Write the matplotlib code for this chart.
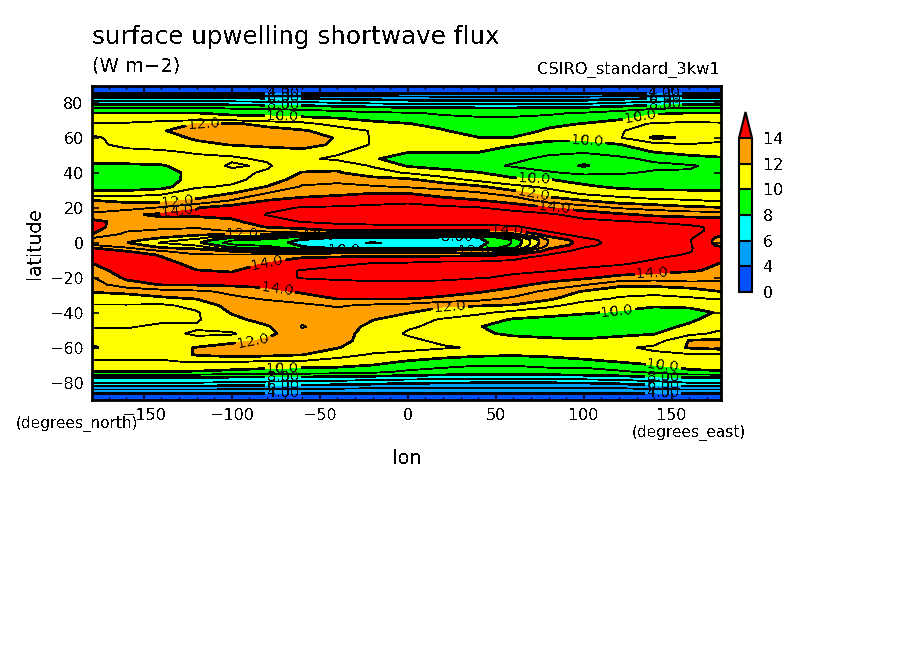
import numpy as np
import matplotlib
matplotlib.use("Agg")
import matplotlib.pyplot as plt
from matplotlib.colors import ListedColormap, BoundaryNorm

plt.rcParams['text.antialiased'] = False
plt.rcParams['font.family'] = 'DejaVu Sans'

lons = [-180, -160, -140, -120, -100, -80, -60, -40, -20, 0, 20, 40, 60, 80, 100, 120, 140, 160, 180]
lats = [90, 87, 85, 83, 81, 79, 77, 74, 71, 68, 64, 60, 56, 52, 48, 44, 40, 36, 32, 28, 24, 20, 16, 12,
        9, 7, 5, 3, 1.5, 0, -1.5, -3, -5, -7, -9, -12, -16, -20, -24, -28, -32, -36, -40, -44, -48, -52,
        -56, -60, -64, -68, -71, -74, -77, -80, -83, -86, -88, -90]

# W m-2, one row per latitude
flux = [
    [2.5]*19,
    [3.2]*19,
    [4.2, 4.2, 4.2, 4.2, 4.2, 4.2, 4.2, 4.1, 4.1, 4.1, 4.1, 4.1, 4.1, 4.1, 4.1, 4.2, 4.2, 4.2, 4.2],
    [6.05, 6.05, 6.05, 6.05, 5.9, 5.8, 5.7, 5.6, 5.5, 5.4, 5.3, 5.2, 5.2, 5.2, 5.3, 5.5, 5.7, 5.9, 6.05],
    [7.05, 7.05, 7.05, 7.05, 6.9, 6.8, 6.7, 6.5, 6.3, 6.2, 6.1, 6.05, 6.1, 6.1, 6.2, 6.5, 6.8, 7.05, 7.05],
    [8.05, 8.05, 8.05, 8.05, 7.9, 7.8, 7.7, 7.5, 7.3, 7.2, 7.1, 7.05, 7.05, 7.1, 7.2, 7.5, 7.8, 8.05, 8.05],
    [9.05, 9.05, 9.05, 9.05, 8.9, 8.8, 8.7, 8.5, 8.3, 8.2, 8.1, 8.05, 8.05, 8.1, 8.2, 8.5, 8.8, 9.05, 9.05],
    [10.05, 10.05, 10.05, 10.05, 9.8, 9.7, 9.6, 9.4, 9.2, 9.1, 8.9, 8.8, 8.8, 8.9, 9.1, 9.4, 9.9, 10.05, 10.05],
    [10.6, 10.6, 10.6, 10.5, 10.4, 10.3, 10.2, 10.05, 9.7, 9.4, 9.2, 9.1, 9.1, 9.2, 9.4, 9.8, 10.4, 10.6, 10.6],
    [11.1, 11.1, 11.4, 12.05, 12.2, 11.6, 11.3, 10.6, 10.3, 10.05, 9.6, 9.15, 9.2, 9.7, 10.05, 10.6, 11.1, 11.2, 11.1],
    [11.2, 11.3, 11.9, 12.6, 12.8, 12.5, 12.1, 11.6, 10.9, 10.4, 10.1, 9.4, 9.4, 10.2, 10.6, 10.9, 11.5, 11.6, 11.3],
    [10.9, 11.2, 11.5, 12.2, 12.7, 12.8, 12.6, 11.9, 10.9, 10.5, 10.2, 10.05, 10.05, 10.2, 10.2, 10.9, 12.15, 11.9, 11.4],
    [10.9, 11.1, 11.3, 11.7, 12.05, 12.3, 12.4, 11.8, 10.9, 10.4, 10.2, 10.1, 10.05, 9.8, 9.7, 9.95, 10.6, 10.9, 10.7],
    [10.8, 10.9, 10.9, 11.1, 11.2, 11.4, 11.7, 11.2, 10.5, 10.05, 10.05, 10.05, 9.5, 9.2, 9.1, 9.4, 10.05, 10.3, 10.4],
    [10.4, 10.5, 10.7, 10.8, 10.9, 11.1, 11.2, 10.8, 10.1, 9.6, 9.6, 9.5, 9.2, 8.8, 8.5, 8.8, 9.2, 9.7, 9.9],
    [9.8, 9.8, 9.9, 10.6, 11.1, 10.9, 11.6, 11.7, 10.9, 9.9, 9.7, 9.3, 8.9, 8.6, 7.9, 8.6, 8.8, 8.9, 9.3],
    [9.4, 9.3, 9.5, 10.4, 10.8, 11.1, 12.05, 12.1, 11.4, 10.9, 10.3, 10.05, 9.5, 9.1, 8.8, 8.9, 9.1, 9.1, 9.2],
    [9.1, 9.1, 9.4, 10.5, 10.8, 11.3, 12.6, 12.8, 12.4, 12.2, 11.5, 10.7, 10.2, 10.05, 9.6, 9.4, 9.4, 9.4, 9.5],
    [9.3, 9.4, 9.6, 10.9, 11.1, 12.05, 13.1, 13.2, 13.1, 12.9, 12.6, 12.2, 11.3, 10.8, 10.2, 9.8, 9.7, 9.7, 9.7],
    [10.5, 10.5, 10.9, 11.5, 12.05, 13.1, 13.6, 13.8, 14.05, 14.05, 13.6, 13.2, 12.6, 11.5, 10.9, 10.6, 10.4, 10.3, 10.3],
    [12.05, 11.8, 11.7, 12.2, 13.1, 14.05, 14.4, 14.6, 14.7, 14.8, 14.4, 14.1, 13.6, 12.6, 12.05, 11.5, 11.2, 11.1, 10.9],
    [12.5, 12.6, 13.1, 13.95, 14.5, 14.8, 15.05, 15.1, 15.2, 15.3, 15.2, 15.05, 14.6, 14.05, 13.5, 12.9, 12.6, 12.2, 12.05],
    [13.2, 13.8, 14.2, 14.2, 14.3, 15.05, 15.3, 15.6, 15.8, 15.8, 15.7, 15.6, 15.5, 15.2, 14.6, 14.2, 13.8, 13.7, 13.6],
    [14.4, 13.5, 13.6, 13.5, 13.8, 14.5, 15.05, 15.4, 15.5, 15.6, 15.6, 15.7, 15.8, 15.7, 15.3, 15.1, 14.9, 14.6, 14.5],
    [14.5, 13.3, 13.2, 13.1, 13.5, 14.05, 14.2, 14.4, 14.6, 14.6, 14.6, 14.5, 14.8, 15.6, 15.7, 15.6, 15.5, 15.2, 14.7],
    [14.3, 13.1, 12.9, 12.8, 13.1, 13.4, 13.8, 14.05, 14.1, 14.1, 14.1, 14.05, 14.2, 15.2, 15.8, 16.1, 15.8, 15.3, 14.6],
    [14.05, 12.8, 12.6, 12.3, 12.05, 12.05, 12.5, 12.6, 12.6, 12.6, 12.6, 12.6, 12.8, 14.6, 15.6, 16.1, 16.1, 15.3, 14.2],
    [13.1, 12.5, 12.05, 11.5, 10.05, 10.05, 8.5, 7.95, 7.9, 7.9, 7.95, 7.95, 10.05, 13.8, 15.05, 15.8, 16.1, 15.2, 13.6],
    [12.7, 12.3, 11.6, 10.6, 9.1, 8.7, 7.9, 7.7, 7.6, 7.6, 7.7, 7.8, 9.1, 13.1, 14.6, 15.6, 16.1, 15.1, 13.4],
    [12.6, 12.05, 10.9, 10.2, 8.6, 8.6, 7.6, 7.4, 6.9, 7.3, 7.4, 7.6, 9.1, 13.1, 14.4, 15.6, 16.1, 15.1, 13.4],
    [13.1, 12.4, 11.6, 10.9, 9.2, 8.8, 7.9, 7.7, 7.6, 7.6, 7.7, 7.8, 9.2, 13.2, 14.6, 15.6, 16.1, 15.1, 13.6],
    [14.05, 13.1, 12.05, 11.8, 10.05, 9.8, 8.1, 7.95, 7.9, 7.9, 7.95, 7.95, 9.8, 13.8, 15.05, 15.8, 15.9, 15.1, 14.1],
    [14.6, 14.05, 13.1, 12.5, 12.05, 11.5, 11.9, 12.05, 12.1, 12.1, 12.1, 12.05, 12.3, 14.5, 15.4, 15.6, 15.6, 15.05, 14.3],
    [14.8, 14.5, 13.9, 13.1, 13.1, 13.3, 13.5, 13.6, 13.6, 13.6, 13.6, 13.8, 14.05, 15.05, 15.5, 15.5, 15.3, 14.9, 14.4],
    [14.6, 14.6, 14.1, 13.3, 13.4, 13.6, 14.1, 14.3, 14.5, 14.6, 14.7, 14.7, 14.9, 15.3, 15.5, 15.4, 15.05, 14.6, 14.3],
    [13.95, 14.8, 14.6, 13.5, 13.6, 14.05, 14.5, 14.8, 15.05, 15.1, 15.2, 15.2, 15.2, 15.4, 15.3, 15.1, 14.8, 14.5, 13.9],
    [13.4, 14.6, 14.6, 14.05, 13.9, 14.7, 15.05, 15.3, 15.3, 15.3, 15.3, 15.2, 15.1, 15.05, 14.8, 14.6, 14.3, 14.1, 13.8],
    [12.9, 14.2, 14.4, 14.5, 14.4, 14.7, 15.05, 15.1, 15.2, 15.2, 15.2, 15.05, 14.9, 14.5, 14.2, 13.7, 13.5, 13.5, 13.3],
    [12.5, 13.6, 14.05, 14.1, 14.2, 14.4, 14.6, 14.8, 14.8, 14.8, 14.7, 14.5, 14.3, 13.7, 13.1, 12.3, 12.3, 12.6, 12.7],
    [12.05, 12.2, 12.6, 12.8, 13.2, 13.5, 14.2, 14.4, 14.5, 14.5, 14.4, 14.1, 13.6, 12.7, 11.9, 11.3, 11.2, 11.4, 12.05],
    [11.5, 11.6, 11.8, 12.05, 12.8, 13.1, 13.4, 14.05, 14.05, 14.05, 13.8, 13.4, 12.8, 12.2, 11.3, 10.9, 10.8, 10.9, 11.1],
    [10.9, 10.9, 10.8, 11.3, 12.4, 12.6, 12.8, 13.1, 12.8, 12.6, 12.1, 12.05, 11.9, 11.2, 10.6, 10.3, 10.1, 10.2, 10.5],
    [10.5, 10.5, 10.4, 10.9, 12.1, 12.4, 12.6, 12.7, 12.3, 12.05, 11.6, 11.2, 10.7, 10.4, 10.1, 9.9, 9.6, 9.6, 10.2],
    [10.7, 10.7, 10.8, 10.9, 11.7, 12.4, 12.8, 12.6, 12.05, 11.4, 10.9, 10.5, 9.9, 9.7, 9.6, 9.5, 9.4, 9.8, 10.6],
    [10.9, 10.9, 11.2, 11.1, 11.4, 11.9, 13.05, 12.6, 11.7, 11.1, 10.8, 10.05, 9.6, 9.5, 9.5, 9.5, 9.6, 10.2, 10.8],
    [11.4, 11.3, 11.2, 10.9, 10.9, 11.7, 12.8, 12.4, 11.6, 10.9, 10.7, 10.2, 9.8, 9.7, 9.7, 9.8, 9.95, 10.7, 11.3],
    [11.8, 11.4, 11.2, 11.2, 11.6, 12.2, 12.7, 12.3, 11.6, 11.2, 10.8, 10.6, 10.4, 10.2, 10.1, 10.3, 10.5, 12.05, 12.2],
    [12.1, 11.6, 11.6, 12.05, 12.6, 12.7, 12.6, 12.05, 11.5, 11.2, 11.1, 10.9, 10.8, 10.7, 10.7, 10.8, 11.2, 12.1, 12.4],
    [11.3, 11.3, 11.3, 12.1, 12.4, 12.3, 12.05, 11.4, 10.9, 10.8, 10.4, 10.2, 10.1, 10.2, 10.4, 10.5, 10.8, 10.9, 10.9],
    [10.9, 10.9, 10.9, 11.1, 11.1, 10.9, 10.9, 10.6, 10.4, 9.9, 9.6, 9.4, 9.4, 9.6, 9.8, 10.05, 10.4, 10.6, 10.7],
    [10.7, 10.7, 10.6, 10.5, 10.4, 10.2, 10.1, 10.05, 9.8, 9.4, 9.1, 8.9, 8.9, 9.1, 9.1, 9.5, 9.8, 10.2, 10.3],
    [9.9, 9.9, 9.9, 9.9, 9.7, 9.6, 9.5, 9.4, 9.2, 8.8, 8.6, 8.4, 8.4, 8.5, 8.6, 8.8, 9.2, 9.8, 9.9],
    [8.1, 8.1, 8.1, 8.1, 7.95, 7.9, 7.9, 7.8, 7.7, 7.6, 7.5, 7.5, 7.5, 7.5, 7.6, 7.7, 7.9, 8.1, 8.1],
    [7.05, 7.05, 7.05, 7.05, 6.9, 6.8, 6.7, 6.6, 6.4, 6.2, 6.1, 6.05, 6.05, 6.05, 6.1, 6.3, 6.7, 7.05, 7.05],
    [5.5, 5.5, 5.5, 5.5, 5.4, 5.4, 5.3, 5.2, 5.1, 5.05, 5.05, 5.05, 5.05, 5.05, 5.05, 5.1, 5.3, 5.5, 5.5],
    [4.05]*19,
    [3.2]*19,
    [2.5]*19,
]

fill_levels = [0, 4, 6, 8, 10, 12, 14]
fill_colors = ['#0050ff', '#00a0ff', '#00ffff', '#00ff00', '#ffff00', '#ffa000', '#ff0000']
thick_levels = [4, 6, 8, 10, 12, 14]
thin_levels = [5, 7, 9, 11, 13, 15]
cbar_labels = ['0', '4', '6', '8', '10', '12', '14']

# contour labels: lon, lat, level
labels = [(-116, 67, 12), (-71, 72.5, 10), (-71, 80, 8), (-71, 83, 6), (-71, 86, 4),
          (132, 72.5, 10), (146, 80, 8), (146, 83, 6), (146, 86, 4),
          (102, 58, 10), (72, 38, 10), (72, 31, 12), (84, 22, 14),
          (-131, 26, 12), (-131, 19.5, 14), (-94, 5.7, 12), (-80, -10, 14), (-74, -26.5, 14),
          (-88, -52, 12), (57, 8.6, 14), (28, 1, 8), (38, -7, 12), (139, -18, 14),
          (24, -37, 12), (119, -39, 10), (-36, -5, 10), (-50, 5, 10),
          (-71, -72.5, 10), (-71, -78, 8), (-71, -82, 6), (-71, -86, 4),
          (145, -72.5, 10), (145, -78, 8), (145, -82, 6), (145, -86, 4)]

data = np.array(flux)
cmap = ListedColormap(fill_colors[:-1])
cmap.set_over(fill_colors[-1])
norm = BoundaryNorm(fill_levels, cmap.N)

fig = plt.figure(figsize=(9.04, 6.54), dpi=100)
ax = fig.add_axes([92/904, 1-400/654, (721-92)/904, (400-86)/654])

cf = ax.contourf(lons, lats, data, levels=fill_levels, cmap=cmap, norm=norm, extend='max', antialiased=False)
ax.contour(lons, lats, data, levels=thin_levels, colors='k', linewidths=0.6, linestyles='solid', antialiased=False)

# one contour set per level, clabel gets confused otherwise
for lev in thick_levels:
    cs = ax.contour(lons, lats, data, levels=[lev], colors='k', linewidths=1.2, linestyles='solid', antialiased=False)
    pts = [(x, y) for x, y, l in labels if l == lev]
    fmt = '%.1f' if lev >= 10 else '%.2f'
    cs.clabel(levels=[lev], manual=pts, fmt=fmt, fontsize=10.4, colors='k', inline=True, inline_spacing=2)

ax.set_xlim(-179.5, 178)
ax.set_ylim(-90, 89.6)
ax.set_xticks([-150, -100, -50, 0, 50, 100, 150])
ax.set_xticks(np.arange(-170, 180, 10), minor=True)
ax.set_yticks([-80, -60, -40, -20, 0, 20, 40, 60, 80])
ax.tick_params(axis='both', which='major', direction='in', length=5, width=1.2, top=True, right=True, labelsize=11.5, pad=6)
ax.tick_params(axis='x', which='minor', direction='in', length=2.5, width=1, top=True)
for s in ax.spines.values():
    s.set_linewidth(2)

ax.set_xlabel('lon', fontsize=14)
ax.xaxis.set_label_coords((407-92)/629, -(449-400)/314, transform=ax.transAxes)
ax.set_ylabel('latitude', fontsize=13.5)
ax.yaxis.set_label_coords((44-92)/629, (400-243)/314, transform=ax.transAxes)

def px_text(x, y, s, **kw):
    fig.text(x/904, 1-y/654, s, va='center', **kw)

px_text(92, 37, 'surface upwelling shortwave flux', fontsize=17.7)
px_text(92, 66, '(W m−2)', fontsize=14)
px_text(720, 70, 'CSIRO_standard_3kw1', fontsize=11.7, ha='right')
px_text(16, 424, '(degrees_north)', fontsize=11)
px_text(632, 433, '(degrees_east)', fontsize=11)

cax = fig.add_axes([739/904, 1-292/654, 13/904, 180/654])
cb = fig.colorbar(cf, cax=cax, extend='max', extendfrac=26/154, spacing='uniform', ticks=fill_levels, drawedges=True)
cb.ax.set_yticklabels(cbar_labels, fontsize=11.5)
cb.ax.tick_params(length=0, pad=8)
cb.outline.set_linewidth(1.5)
cb.dividers.set_color('k')
cb.dividers.set_linewidth(1.5)

fig.savefig('out.png', dpi=100)
